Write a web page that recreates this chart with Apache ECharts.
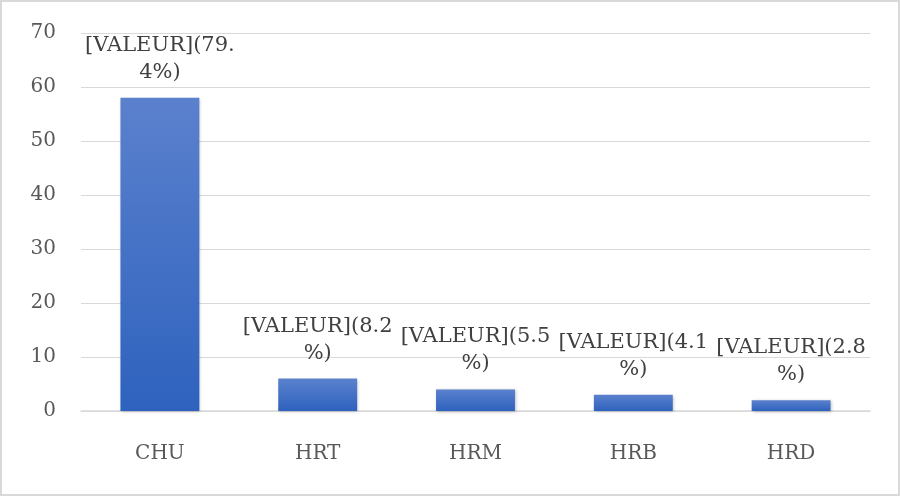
<!DOCTYPE html>
<html><head><meta charset="utf-8">
<script src="https://cdn.jsdelivr.net/npm/echarts@6/dist/echarts.min.js"></script>
<style>html,body{margin:0;padding:0;background:#fff}#c{width:900px;height:496px;box-sizing:border-box;border:2px solid #d9d9d9}</style>
</head><body><div id="c"></div>
<script>
const categories = ['CHU','HRT','HRM','HRB','HRD'];
const values = [58, 6, 4, 3, 2];
const labelTexts = ['[VALEUR](79.\n4%)','[VALEUR](8.2\n%)','[VALEUR](5.5\n%)','[VALEUR](4.1\n%)','[VALEUR](2.8\n%)'];
const yTicks = [0,10,20,30,40,50,60,70];

const chart = echarts.init(document.getElementById('c'));
const font = 'DejaVu Serif';
chart.setOption({
  animation:false,
  grid:{left:79,right:28,top:31,bottom:83,containLabel:false},
  xAxis:{type:'category',data:categories,
    axisLine:{lineStyle:{color:'#d9d9d9',width:1.5}},axisTick:{show:false},
    axisLabel:{color:'#595959',fontFamily:font,fontSize:20,margin:33}},
  yAxis:{type:'value',min:yTicks[0],max:yTicks[yTicks.length-1],interval:10,
    axisLine:{show:false},axisTick:{show:false},
    splitLine:{lineStyle:{color:'#d9d9d9',width:1}},
    axisLabel:{color:'#595959',fontFamily:font,fontSize:20,margin:25}},
  series:[{type:'bar',barWidth:'50%',
    data:values.map((v,i)=>({value:v,label:{formatter:labelTexts[i]}})),
    itemStyle:{color:new echarts.graphic.LinearGradient(0,0,0,1,[{offset:0,color:'#5B81CD'},{offset:1,color:'#2E62BE'}]),
      shadowColor:'rgba(0,0,0,0.25)',shadowBlur:3,shadowOffsetX:1,shadowOffsetY:1},
    label:{show:true,position:'top',distance:12,color:'#404040',fontFamily:font,fontSize:21,lineHeight:27,align:'center'}
  }]
});
</script></body></html>
